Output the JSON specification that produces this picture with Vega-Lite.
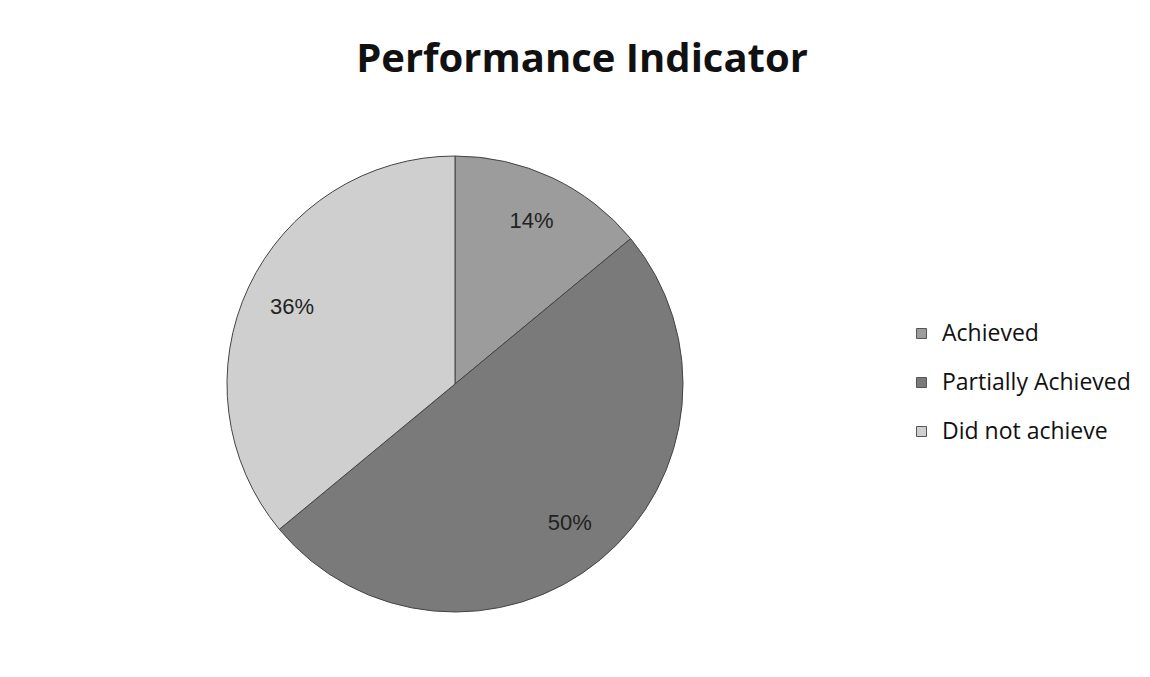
{
  "$schema": "https://vega.github.io/schema/vega-lite/v6.json",
  "width": 456,
  "height": 456,
  "autosize": {"type": "none"},
  "padding": {"left": 227, "top": 156, "right": 467, "bottom": 65},
  "background": "white",
  "title": {
    "text": "Performance Indicator",
    "font": "Open Sans",
    "fontSize": 40,
    "fontWeight": "bold",
    "color": "#111111",
    "anchor": "middle",
    "frame": "group",
    "dx": 127,
    "offset": 74
  },
  "data": {
    "values": [
      {"status": "Achieved", "value": 14, "label": "14%", "ord": 1},
      {"status": "Partially Achieved", "value": 50, "label": "50%", "ord": 2},
      {"status": "Did not achieve", "value": 36, "label": "36%", "ord": 3}
    ]
  },
  "encoding": {
    "theta": {"field": "value", "type": "quantitative", "stack": true},
    "order": {"field": "ord", "type": "quantitative"}
  },
  "layer": [
    {
      "mark": {"type": "arc", "outerRadius": 228, "stroke": "#444444", "strokeWidth": 1},
      "encoding": {
        "color": {
          "field": "status",
          "type": "nominal",
          "sort": ["Achieved", "Partially Achieved", "Did not achieve"],
          "scale": {
            "domain": ["Achieved", "Partially Achieved", "Did not achieve"],
            "range": ["#9c9c9c", "#7a7a7a", "#cfcfcf"]
          },
          "legend": {
            "title": null,
            "orient": "none",
            "legendX": 683,
            "legendY": 166,
            "symbolType": "square",
            "symbolSize": 100,
            "symbolStrokeColor": "#555555",
            "symbolStrokeWidth": 1,
            "labelFont": "Open Sans",
            "labelFontSize": 23,
            "labelColor": "#111111",
            "labelLimit": 300,
            "rowPadding": 25,
            "labelOffset": 9
          }
        }
      }
    },
    {
      "mark": {"type": "text", "radius": 180, "font": "Liberation Sans", "fontSize": 22, "color": "#222222"},
      "encoding": {"text": {"field": "label"}}
    }
  ]
}
